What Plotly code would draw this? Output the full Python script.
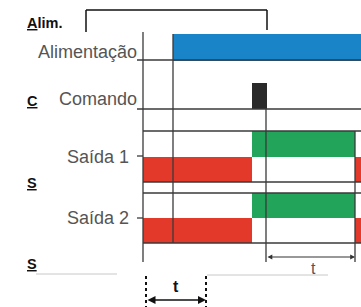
import plotly.graph_objects as go

# ---- data (time instants, in axis units) ----
signals = ["Alimentação", "Comando", "Saída 1", "Saída 2"]
t_start = 143          # start of the time axis
t_power_on = 173       # supply switched on
t_cmd_on = 252         # command pulse start
t_cmd_off = 267        # command pulse end
t_timer_end = 355      # end of timed interval t
t_end = 361            # right edge of the diagram
# output segments: (start, end, state)  state 1 = NO closed (green), 0 = NC (red)
out_segments = [(t_start, t_cmd_on, 0), (t_cmd_on, t_timer_end, 1), (t_timer_end, t_end, 0)]

# ---- layout constants (pixel-like y positions of the rows) ----
W, H = 361, 307
LINE = "#3a3a3a"
BLUE, GREEN, RED, BLACK = "#1a84c9", "#22a45a", "#e2392b", "#2a2a2a"
row_y = {"Alimentação": (34, 61), "Comando": (83, 109)}
track = {"Saída 1": {1: (131, 157), 0: (157, 182)},
         "Saída 2": {1: (193, 218), 0: (218, 243)}}

fig = go.Figure()

def hbar(x0, x1, y0, y1, color):
    fig.add_trace(go.Bar(orientation="h", y=[(y0 + y1) / 2], x=[x1 - x0], base=[x0],
                         width=[y1 - y0], marker=dict(color=color, line=dict(width=0)),
                         hoverinfo="skip", showlegend=False))

hbar(t_power_on, t_end, *row_y["Alimentação"], BLUE)
hbar(t_cmd_on, t_cmd_off, *row_y["Comando"], BLACK)
for s in ["Saída 1", "Saída 2"]:
    for a, b, st in out_segments:
        hbar(a, b, *track[s][st], GREEN if st else RED)

shapes = []
def line(x0, y0, x1, y1, color=LINE, width=1.3, dash=None):
    d = dict(type="line", x0=x0, y0=y0, x1=x1, y1=y1, xref="x", yref="y",
             line=dict(color=color, width=width), layer="above")
    if dash:
        d["line"]["dash"] = dash
    shapes.append(d)

# horizontal lines
line(137, 60, t_end, 60)
line(137, 109, t_end, 109)
line(t_start, 131, t_end, 131)
line(137, 156, t_start, 156)
line(t_start, 182, t_end, 182)
line(t_start, 193, t_end, 193)
line(137, 218, t_start, 218)
line(t_start, 243, t_end, 243)
# vertical lines
line(t_start, 32, t_start, 262)
line(t_power_on, 34, t_power_on, 243)
line(266, 109, 266, 262)
line(t_timer_end, 131, t_timer_end, 262)
# top bracket
line(86, 32, 86, 10, color="#111", width=1.5)
line(86, 10, 267, 10, color="#111", width=1.5)
line(267, 10, 267, 30, color="#111", width=1.5)
# faint baseline lines at bottom
line(36, 274, 117, 274, color="#c8c8c8", width=1)
line(207, 275, 328, 275, color="#c8c8c8", width=1)
# dotted markers
line(146, 276, 146, 307, color="#111", width=2, dash="dot")
line(206, 276, 206, 307, color="#111", width=2, dash="dot")

fig.update_layout(shapes=shapes)

ann = []
lab_font = dict(family="Liberation Sans, Arial", size=18, color="#555555")
for name, yy, xr in zip(signals, [52, 99, 157, 218], [139, 139, 131, 131]):
    ann.append(dict(x=xr, y=yy, xref="x", yref="y", text=name,
                    showarrow=False, xanchor="right", yanchor="middle", font=lab_font))
bold = dict(family="Liberation Sans, Arial", size=14.5, color="#111")
ann.append(dict(x=25, y=23, text="<b><u>A</u>lim.</b>", showarrow=False, xanchor="left",
                yanchor="middle", font=bold, xref="x", yref="y"))
for yy in [101, 183, 264]:
    ann.append(dict(x=25, y=yy, text="<b><u>" + ("C" if yy < 120 else "S") + "</u></b>",
                    showarrow=False, xanchor="left", yanchor="middle", font=bold,
                    xref="x", yref="y"))
# timer arrows
ann.append(dict(x=t_timer_end, y=257, ax=266, ay=257, xref="x", yref="y", axref="x", ayref="y",
                showarrow=True, arrowside="end+start", arrowhead=2, arrowsize=0.8,
                arrowwidth=1.2, arrowcolor="#333", text=""))
ann.append(dict(x=313, y=268, text="t", showarrow=False, xref="x", yref="y",
                font=dict(family="Liberation Sans, Arial", size=16, color="#555555")))
ann.append(dict(x=206, y=300, ax=146, ay=300, xref="x", yref="y", axref="x", ayref="y",
                showarrow=True, arrowside="end+start", arrowhead=2, arrowsize=1,
                arrowwidth=1.6, arrowcolor="#111", text=""))
ann.append(dict(x=176, y=286, text="<b>t</b>", showarrow=False, xref="x", yref="y",
                font=dict(family="Liberation Sans, Arial", size=16, color="#111")))
fig.update_layout(annotations=ann)

fig.update_layout(
    width=W, height=H, margin=dict(l=0, r=0, t=0, b=0),
    paper_bgcolor="white", plot_bgcolor="white", barmode="overlay", bargap=0,
    xaxis=dict(range=[0, W], visible=False, fixedrange=True),
    yaxis=dict(range=[H, 0], visible=False, fixedrange=True),
    showlegend=False,
)
fig.write_html("out.html", config={"displayModeBar": False},
               post_script="document.body.style.margin='0';document.body.style.overflow='hidden';")
